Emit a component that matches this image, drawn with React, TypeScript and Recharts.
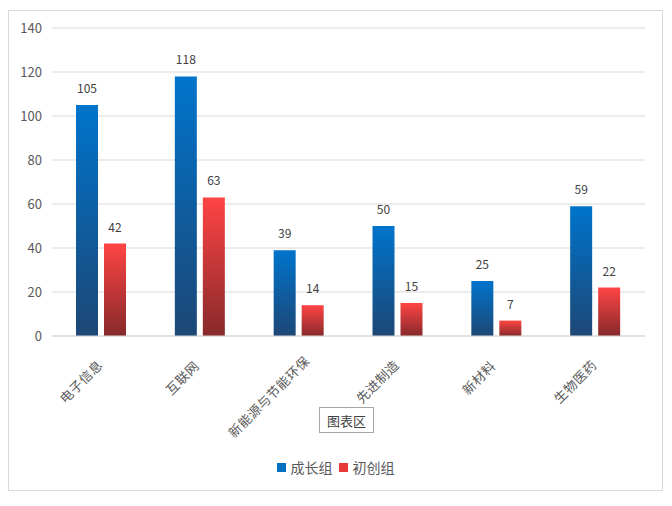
import { BarChart, Bar, XAxis, YAxis, CartesianGrid, LabelList } from "recharts";

// ── Data ──────────────────────────────────────────────────────────────────────

const categories = ["电子信息", "互联网", "新能源与节能环保", "先进制造", "新材料", "生物医药"];
const growthGroup = [105, 118, 39, 50, 25, 59];
const startupGroup = [42, 63, 14, 15, 7, 22];
const yTicks = [0, 20, 40, 60, 80, 100, 120, 140];

const SERIES = [
  { key: "growth", name: "成长组", grad: "gradBlue", swatch: "#0070C0" },
  { key: "startup", name: "初创组", grad: "gradRed", swatch: "#E83A3A" },
];

const chartData = categories.map((c, i) => ({
  name: c,
  growth: growthGroup[i],
  startup: startupGroup[i],
}));

const FONT = '"Microsoft YaHei", "Noto Sans CJK SC", sans-serif';
const TEXT = "#595959";

// ── Rotated category tick ─────────────────────────────────────────────────────
// Excel nudges longer rotated labels a bit right/up of the category centre.

function AngledTick({ x, y, payload }: { x?: number; y?: number; payload?: { value: string } }) {
  const n = payload?.value.length ?? 0;
  const dx = -7 + 2.3 * n;
  const dy = 22 - (n - 4);
  return (
    <g transform={`translate(${(x ?? 0) + dx},${(y ?? 0) + dy})`}>
      <text
        textAnchor="end"
        transform="rotate(-45)"
        fill={TEXT}
        fontSize={13}
        letterSpacing={0.5}
        fontFamily={FONT}
      >
        {payload?.value}
      </text>
    </g>
  );
}

// ── Legend ────────────────────────────────────────────────────────────────────

function SwatchLegend() {
  return (
    <div style={{ position: "absolute", top: 446, left: 0, width: 653, display: "flex", justifyContent: "center", alignItems: "center", gap: 6, fontFamily: FONT, fontSize: 14, color: TEXT }}>
      {SERIES.map((s) => (
        <span key={s.key} style={{ display: "flex", alignItems: "center", gap: 5 }}>
          <span style={{ display: "inline-block", width: 9, height: 9, background: s.swatch }} />
          {s.name}
        </span>
      ))}
    </div>
  );
}

export default function App() {
  return (
    <div style={{ marginTop: 2, width: 653, height: 479, border: "1px solid #D9D9D9", position: "relative", background: "#fff" }}>
      <BarChart
        width={653}
        height={479}
        data={chartData}
        margin={{ top: 17, right: 17, bottom: 0, left: 0 }}
        barSize={22}
        barGap={6}
      >
        <defs>
          <linearGradient id="gradBlue" x1="0" y1="0" x2="0" y2="1">
            <stop offset="0%" stopColor="#0074CC" />
            <stop offset="100%" stopColor="#1D4775" />
          </linearGradient>
          <linearGradient id="gradRed" x1="0" y1="0" x2="0" y2="1">
            <stop offset="0%" stopColor="#FF4444" />
            <stop offset="100%" stopColor="#87292B" />
          </linearGradient>
        </defs>

        <CartesianGrid vertical={false} stroke="#D9D9D9" />

        <XAxis
          dataKey="name"
          height={154}
          interval={0}
          tickLine={false}
          axisLine={{ stroke: "#D9D9D9" }}
          tick={<AngledTick />}
        />
        <YAxis
          width={43}
          domain={[0, 140]}
          ticks={yTicks}
          axisLine={false}
          tickLine={false}
          tickMargin={4}
          tick={{ fill: TEXT, fontSize: 13, fontFamily: FONT }}
        />

        {SERIES.map((s) => (
          <Bar key={s.key} dataKey={s.key} name={s.name} fill={`url(#${s.grad})`} isAnimationActive={false}>
            <LabelList dataKey={s.key} position="top" offset={12} fill="#404040" fontSize={12} fontFamily={FONT} />
          </Bar>
        ))}
      </BarChart>

      <SwatchLegend />

      {/* Excel hover hint box */}
      <div
        style={{
          position: "absolute",
          left: 310,
          top: 396,
          width: 53,
          height: 24,
          border: "1px solid #A6A6A6",
          display: "flex",
          alignItems: "center",
          justifyContent: "center",
          fontFamily: FONT,
          fontSize: 13,
          color: "#404040",
          background: "#fff",
        }}
      >
        图表区
      </div>
    </div>
  );
}
